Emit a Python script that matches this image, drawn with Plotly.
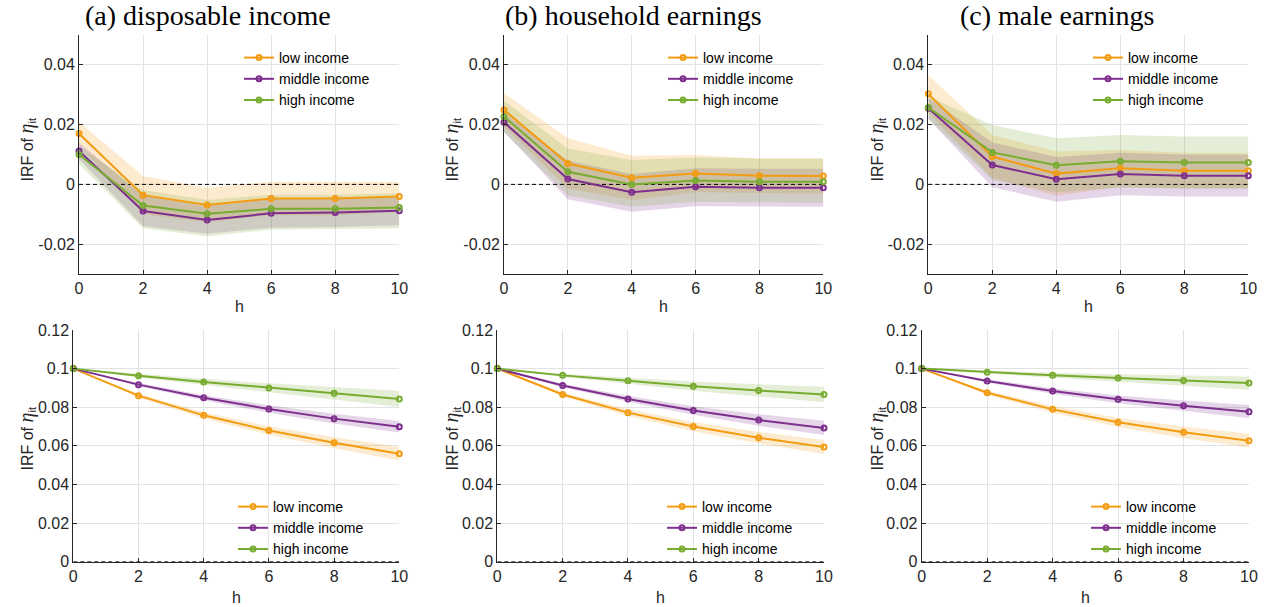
import plotly.graph_objects as go

# Horizon (years after the shock)
H = [0, 2, 4, 6, 8, 10]

TITLES = ["(a) disposable income", "(b) household earnings", "(c) male earnings"]
GROUPS = ["low income", "middle income", "high income"]
COLORS = ["#F39C12", "#7E2F8E", "#77AC30"]
FILLS = ["rgba(243,156,18,0.2)", "rgba(126,47,142,0.2)", "rgba(119,172,48,0.2)"]

TOP_YTICKS = [-0.02, 0, 0.02, 0.04]
TOP_YLABELS = ["-0.02", "0", "0.02", "0.04"]
BOT_YTICKS = [0, 0.02, 0.04, 0.06, 0.08, 0.1, 0.12]
BOT_YLABELS = ["0", "0.02", "0.04", "0.06", "0.08", "0.1", "0.12"]
XTICKS = [0, 2, 4, 6, 8, 10]
XLABELS = ["0", "2", "4", "6", "8", "10"]
ZERO = [0, 0]

# ---- top row: point estimates with lower / upper bands ----
# (a) disposable income
a_low = [0.0170, -0.0036, -0.0069, -0.0047, -0.0047, -0.0041]
a_low_lo = [0.0131, -0.0100, -0.0127, -0.0103, -0.0103, -0.0091]
a_low_hi = [0.0209, 0.0028, -0.0011, 0.0009, 0.0009, 0.0009]
a_mid = [0.0112, -0.0089, -0.0119, -0.0097, -0.0094, -0.0088]
a_mid_lo = [0.0085, -0.0140, -0.0165, -0.0145, -0.0143, -0.0137]
a_mid_hi = [0.0139, -0.0038, -0.0073, -0.0049, -0.0045, -0.0039]
a_high = [0.0100, -0.0071, -0.0098, -0.0082, -0.0082, -0.0077]
a_high_lo = [0.0068, -0.0147, -0.0174, -0.0152, -0.0150, -0.0147]
a_high_hi = [0.0128, -0.0019, -0.0052, -0.0035, -0.0035, -0.0030]

# (b) household earnings
b_low = [0.0249, 0.0070, 0.0022, 0.0036, 0.0029, 0.0028]
b_low_lo = [0.0193, -0.0014, -0.0052, -0.0026, -0.0029, -0.0031]
b_low_hi = [0.0305, 0.0154, 0.0096, 0.0098, 0.0087, 0.0087]
b_mid = [0.0208, 0.0018, -0.0026, -0.0008, -0.0011, -0.0011]
b_mid_lo = [0.0176, -0.0050, -0.0092, -0.0073, -0.0075, -0.0075]
b_mid_hi = [0.0240, 0.0080, 0.0035, 0.0054, 0.0052, 0.0052]
b_high = [0.0227, 0.0042, 0.0000, 0.0013, 0.0009, 0.0009]
b_high_lo = [0.0174, -0.0036, -0.0075, -0.0058, -0.0060, -0.0062]
b_high_hi = [0.0280, 0.0120, 0.0082, 0.0090, 0.0087, 0.0087]

# (c) male earnings
c_low = [0.0303, 0.0093, 0.0036, 0.0054, 0.0046, 0.0046]
c_low_lo = [0.0240, 0.0021, -0.0038, -0.0007, -0.0014, -0.0014]
c_low_hi = [0.0366, 0.0165, 0.0110, 0.0115, 0.0106, 0.0106]
c_mid = [0.0255, 0.0065, 0.0017, 0.0035, 0.0029, 0.0029]
c_mid_lo = [0.0220, -0.0010, -0.0058, -0.0036, -0.0041, -0.0041]
c_mid_hi = [0.0290, 0.0140, 0.0092, 0.0106, 0.0100, 0.0099]
c_high = [0.0257, 0.0107, 0.0064, 0.0077, 0.0073, 0.0073]
c_high_lo = [0.0220, 0.0015, -0.0026, -0.0011, -0.0014, -0.0014]
c_high_hi = [0.0294, 0.0199, 0.0154, 0.0165, 0.0160, 0.0160]

# ---- bottom row: point estimates with band half-widths ----
d_low = [0.1, 0.0860, 0.0758, 0.0679, 0.0616, 0.0559]
d_low_se = [0.0, 0.0010, 0.0016, 0.0022, 0.0028, 0.0035]
d_mid = [0.1, 0.0917, 0.0849, 0.0791, 0.0741, 0.0699]
d_mid_se = [0.0, 0.0008, 0.0013, 0.0019, 0.0025, 0.0030]
d_high = [0.1, 0.0963, 0.0931, 0.0900, 0.0872, 0.0843]
d_high_se = [0.0, 0.0009, 0.0016, 0.0024, 0.0032, 0.0042]

e_low = [0.1, 0.0866, 0.0772, 0.0700, 0.0642, 0.0594]
e_low_se = [0.0, 0.0010, 0.0017, 0.0024, 0.0030, 0.0036]
e_mid = [0.1, 0.0913, 0.0843, 0.0783, 0.0734, 0.0693]
e_mid_se = [0.0, 0.0009, 0.0015, 0.0022, 0.0030, 0.0037]
e_high = [0.1, 0.0965, 0.0937, 0.0909, 0.0887, 0.0866]
e_high_se = [0.0, 0.0009, 0.0016, 0.0024, 0.0032, 0.0040]

f_low = [0.1, 0.0875, 0.0789, 0.0722, 0.0670, 0.0627]
f_low_se = [0.0, 0.0010, 0.0017, 0.0024, 0.0030, 0.0036]
f_mid = [0.1, 0.0936, 0.0884, 0.0841, 0.0808, 0.0777]
f_mid_se = [0.0, 0.0008, 0.0014, 0.0020, 0.0027, 0.0034]
f_high = [0.1, 0.0981, 0.0965, 0.0951, 0.0939, 0.0925]
f_high_se = [0.0, 0.0007, 0.0013, 0.0020, 0.0027, 0.0034]


def band(est, se):
    lo = [m - s for m, s in zip(est, se)]
    hi = [m + s for m, s in zip(est, se)]
    return lo, hi


panels = [
    [(a_low, a_low_lo, a_low_hi), (a_mid, a_mid_lo, a_mid_hi), (a_high, a_high_lo, a_high_hi)],
    [(b_low, b_low_lo, b_low_hi), (b_mid, b_mid_lo, b_mid_hi), (b_high, b_high_lo, b_high_hi)],
    [(c_low, c_low_lo, c_low_hi), (c_mid, c_mid_lo, c_mid_hi), (c_high, c_high_lo, c_high_hi)],
    [(d_low, *band(d_low, d_low_se)), (d_mid, *band(d_mid, d_mid_se)), (d_high, *band(d_high, d_high_se))],
    [(e_low, *band(e_low, e_low_se)), (e_mid, *band(e_mid, e_mid_se)), (e_high, *band(e_high, e_high_se))],
    [(f_low, *band(f_low, f_low_se)), (f_mid, *band(f_mid, f_mid_se)), (f_high, *band(f_high, f_high_se))],
]

W, HGT = 1273, 607


def px(x):
    return x / W


def py(y):
    return 1 - y / HGT


# plot-area boxes in pixels: (left, right, top, bottom)
boxes = [
    (79, 399.3, 35, 274), (504, 823.3, 35, 274), (928.3, 1248.3, 35, 274),
    (73.3, 399.3, 330, 561.7), (497.3, 824, 330, 561.7), (921.7, 1249, 330, 561.7),
]
legend_text_x = [279, 703, 1128, 273, 702, 1126]
legend_top_y = [42, 42, 42, 491, 491, 491]
ylabel_x = [12, 437, 862, 12, 437, 862]
ylabel_y = [150, 150, 150, 439, 439, 439]

SANS = "Liberation Sans"
SERIF = "Liberation Serif"
INK = "#262626"

YTITLE = ("IRF of <span style=\"font-family:'Liberation Serif';font-size:20px\"><i>η</i></span>"
          "<sub>it</sub>")

fig = go.Figure()
layout = dict(
    width=W, height=HGT, margin=dict(l=0, r=0, t=0, b=0, autoexpand=False),
    paper_bgcolor="white", plot_bgcolor="white",
    font=dict(family=SANS, size=16, color=INK),
    annotations=[],
)

for i, series in enumerate(panels):
    n = i + 1
    xa = "x" if n == 1 else f"x{n}"
    ya = "y" if n == 1 else f"y{n}"
    lg = "legend" if n == 1 else f"legend{n}"
    # shaded bands first
    for g, (est, lo, hi) in enumerate(series):
        fig.add_trace(go.Scatter(
            x=H + H[::-1], y=hi + lo[::-1], fill="toself", fillcolor=FILLS[g],
            line=dict(width=0), mode="lines", hoverinfo="skip", showlegend=False,
            xaxis=xa, yaxis=ya,
        ))
    # dashed zero reference line
    fig.add_trace(go.Scatter(
        x=[H[0], H[-1]], y=ZERO, mode="lines", hoverinfo="skip", showlegend=False,
        line=dict(color="black", width=1, dash="4px,3px"), xaxis=xa, yaxis=ya,
    ))
    # point estimates on top
    for g, (est, lo, hi) in enumerate(series):
        fig.add_trace(go.Scatter(
            x=H, y=est, mode="lines+markers", name=GROUPS[g],
            line=dict(color=COLORS[g], width=2),
            marker=dict(symbol="circle-open", size=5, color=COLORS[g], line=dict(width=2)),
            cliponaxis=False, legend=lg, xaxis=xa, yaxis=ya,
        ))

    l, r, t, b = boxes[i]
    top_row = i < 3
    axkey = "xaxis" if n == 1 else f"xaxis{n}"
    aykey = "yaxis" if n == 1 else f"yaxis{n}"
    layout[axkey] = dict(
        domain=[px(l), px(r)], anchor=ya, range=[0, 10],
        tickvals=XTICKS, ticktext=XLABELS,
        showline=True, linecolor=INK, linewidth=1,
        ticks="inside", ticklen=4, tickcolor=INK,
        showgrid=True, gridcolor="#e2e2e2", gridwidth=1, zeroline=False,
        tickfont=dict(family=SANS, size=16, color=INK),
    )
    layout[aykey] = dict(
        domain=[py(b), py(t)], anchor=xa,
        range=[-0.03, 0.05] if top_row else [0, 0.12],
        tickvals=TOP_YTICKS if top_row else BOT_YTICKS,
        ticktext=TOP_YLABELS if top_row else BOT_YLABELS,
        showline=True, linecolor=INK, linewidth=1,
        ticks="inside", ticklen=4, tickcolor=INK,
        showgrid=True, gridcolor="#e2e2e2", gridwidth=1, zeroline=False,
        tickfont=dict(family=SANS, size=16, color=INK),
    )
    # legend
    layout[lg] = dict(
        x=px(legend_text_x[i] - 40), y=py(legend_top_y[i]), xanchor="left", yanchor="top",
        bgcolor="rgba(0,0,0,0)", borderwidth=0, itemwidth=30,
        font=dict(family=SANS, size=14, color="black"),
    )
    # axis titles
    layout["annotations"].append(dict(
        text="h", x=px((l + r) / 2), y=py(306 if top_row else 597), xref="paper", yref="paper",
        xanchor="center", yanchor="middle", showarrow=False,
        font=dict(family=SANS, size=16, color=INK),
    ))
    layout["annotations"].append(dict(
        text=YTITLE,
        x=px(ylabel_x[i]), y=py(ylabel_y[i]), xref="paper", yref="paper",
        xanchor="left", yanchor="middle", textangle=-90, showarrow=False,
        font=dict(family=SANS, size=16, color=INK),
    ))

title_x = [208, 633.5, 1057]
for k, ttl in enumerate(TITLES):
    layout["annotations"].append(dict(
        text=ttl, x=px(title_x[k]), y=py(15), xref="paper", yref="paper",
        xanchor="center", yanchor="middle", showarrow=False,
        font=dict(family=SERIF, size=28, color="black"),
    ))

fig.update_layout(**layout)
fig.write_html("out.html")
